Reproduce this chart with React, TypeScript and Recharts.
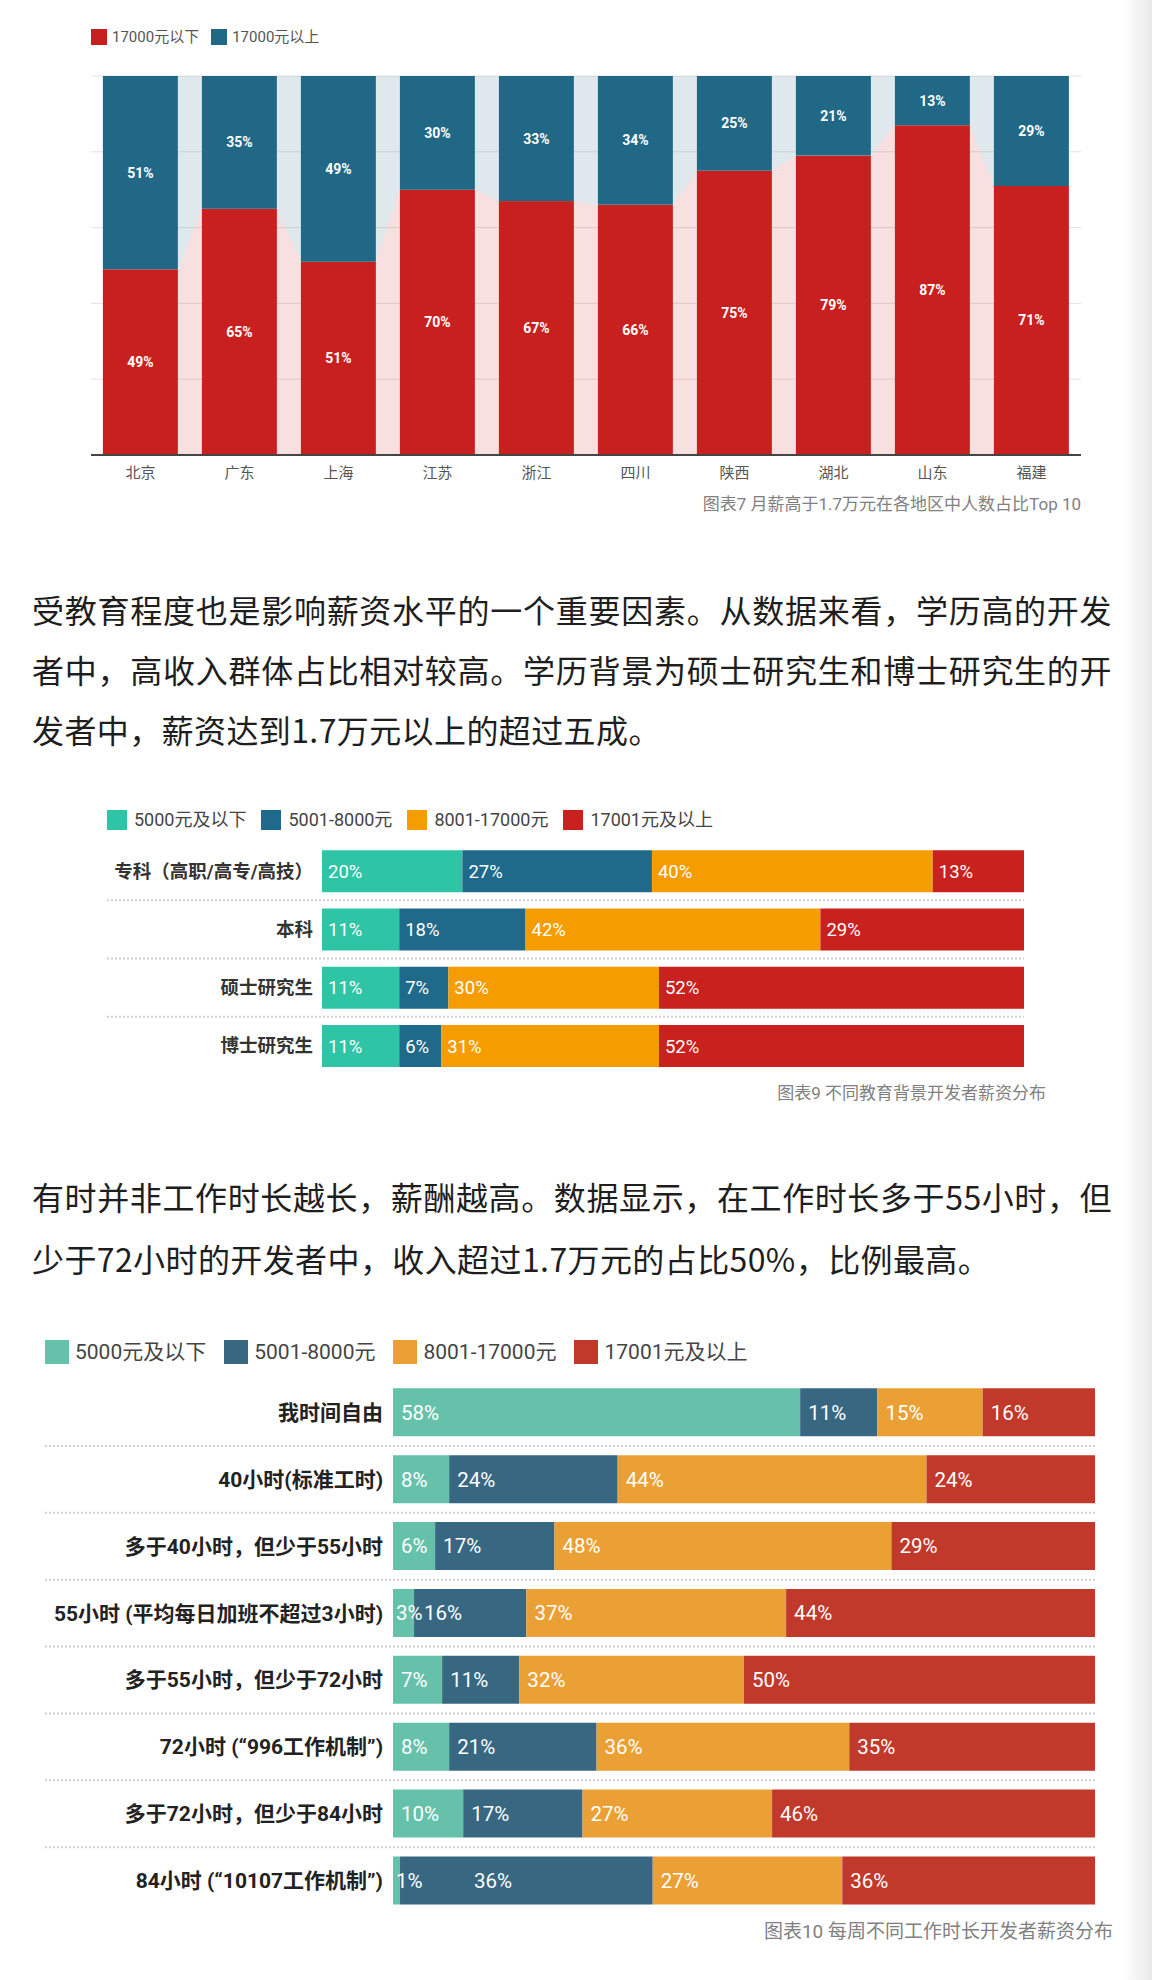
import React from "react";
import { BarChart, Bar, XAxis, YAxis, CartesianGrid, LabelList, ReferenceLine } from "recharts";

// 图表7 各地区
const regions = ["北京", "广东", "上海", "江苏", "浙江", "四川", "陕西", "湖北", "山东", "福建"];
const below17k = [49, 65, 51, 70, 67, 66, 75, 79, 87, 71];
const above17k = [51, 35, 49, 30, 33, 34, 25, 21, 13, 29];
const regionSeries = ["17000元以下", "17000元以上"];

// 图表9 教育背景
const eduLevels = ["专科（高职/高专/高技）", "本科", "硕士研究生", "博士研究生"];
const eduLow = [20, 11, 11, 11];
const eduMid = [27, 18, 7, 6];
const eduHigh = [40, 42, 30, 31];
const eduTop = [13, 29, 52, 52];

// 图表10 工作时长
const hourGroups = [
  "我时间自由",
  "40小时(标准工时)",
  "多于40小时，但少于55小时",
  "55小时 (平均每日加班不超过3小时)",
  "多于55小时，但少于72小时",
  "72小时 (\u201C996工作机制\u201D)",
  "多于72小时，但少于84小时",
  "84小时 (\u201C10107工作机制\u201D)",
];
const hoursLow = [58, 8, 6, 3, 7, 8, 10, 1];
const hoursMid = [11, 24, 17, 16, 11, 21, 17, 36];
const hoursHigh = [15, 44, 48, 37, 32, 36, 27, 27];
const hoursTop = [16, 24, 29, 44, 50, 35, 46, 36];

const salaryBands = ["5000元及以下", "5001-8000元", "8001-17000元", "17001元及以上"];

const para1 =
  "受教育程度也是影响薪资水平的一个重要因素。从数据来看，学历高的开发者中，高收入群体占比相对较高。学历背景为硕士研究生和博士研究生的开发者中，薪资达到1.7万元以上的超过五成。";
const para2 =
  "有时并非工作时长越长，薪酬越高。数据显示，在工作时长多于55小时，但少于72小时的开发者中，收入超过1.7万元的占比50%，比例最高。";

const FONT = 'Roboto, "Noto Sans CJK SC", sans-serif';
const CJK = '"Noto Sans CJK SC", sans-serif';

const regionColors = ["#c8201e", "#206886"];
const eduColors = ["#2ec4a6", "#1f6a8a", "#f59c00", "#c9211e"];
const hourColors = ["#66c1aa", "#386782", "#eba035", "#c0392b"];

const regionData = regions.map((name, i) => ({ name, low: below17k[i], high: above17k[i] }));
const eduData = eduLevels.map((name, i) => ({ name, a: eduLow[i], b: eduMid[i], c: eduHigh[i], d: eduTop[i] }));
const hourData = hourGroups.map((name, i) => ({ name, a: hoursLow[i], b: hoursMid[i], c: hoursHigh[i], d: hoursTop[i] }));

// chart 1 geometry
const C1_W = 1152;
const C1_M = { top: 76, right: 71, left: 91, bottom: 5 };
const C1_BAND = (C1_W - C1_M.left - C1_M.right) / regions.length;

// red bar plus the light connector shading into the next bar
function RedBar(props: any) {
  const { x, y, width, height, index, fill } = props;
  const k = height / below17k[index];
  const bottom = y + height;
  const top = bottom - 100 * k;
  let links = null;
  if (index < below17k.length - 1) {
    const x1 = x + width;
    const x2 = x + C1_BAND;
    const yn = bottom - below17k[index + 1] * k;
    links = (
      <g>
        <polygon points={`${x1},${y} ${x2},${yn} ${x2},${bottom} ${x1},${bottom}`} fill={regionColors[0]} fillOpacity={0.14} />
        <polygon points={`${x1},${top} ${x2},${top} ${x2},${yn} ${x1},${y}`} fill={regionColors[1]} fillOpacity={0.15} />
      </g>
    );
  }
  return (
    <g>
      {links}
      <rect x={x} y={y} width={width} height={height} fill={fill} />
    </g>
  );
}

function Legend({ items, colors, left, top, size, fontSize, textGap, itemGap, color }: any) {
  return (
    <div style={{ position: "absolute", left, top, display: "flex", alignItems: "center", gap: itemGap, fontFamily: FONT, fontSize, color, lineHeight: 1 }}>
      {items.map((t: string, i: number) => (
        <div key={t} style={{ display: "flex", alignItems: "center", gap: textGap }}>
          <span style={{ width: size, height: size, background: colors[i], display: "inline-block" }} />
          <span>{t}</span>
        </div>
      ))}
    </div>
  );
}

function Caption({ text, right, top, fontSize }: any) {
  return (
    <div style={{ position: "absolute", right: 1152 - right, top, fontFamily: FONT, fontSize, color: "#808080", lineHeight: 1, whiteSpace: "nowrap" }}>
      {text}
    </div>
  );
}

function makeSeparator(extend: number) {
  return (p: any) => (
    <line x1={p.x1 - extend} y1={p.y1} x2={p.x2} y2={p.y2} stroke="#cfcfcf" strokeWidth={2} strokeDasharray="2 2" />
  );
}

// value label at the left of a segment; tiny segments hug the edge and push the next label along
function makeValueLabel(prev: number[] | null, offset: number, fontSize: number) {
  return (p: any) => {
    const before = prev ? prev[p.index] : 100;
    let dx = p.value < 5 ? 3 : offset;
    if (before < 2) dx += 66;
    else if (before < 5) dx += 2;
    return (
      <text x={p.x + dx} y={p.y + p.height / 2} dy="0.36em" fill="#fff" fontSize={fontSize}>
        {`${p.value}%`}
      </text>
    );
  };
}

function StackedRows({ data, colors, width, height, margin, yWidth, tickSize, valueSize, labelColor, tickMargin, extend, offset }: any) {
  const keys = ["a", "b", "c", "d"];
  const cols = keys.map((k) => data.map((d: any) => d[k]));
  return (
    <BarChart layout="vertical" width={width} height={height} data={data} margin={margin} barCategoryGap="14%">
      <XAxis type="number" domain={[0, 100]} hide />
      <YAxis
        type="category"
        dataKey="name"
        width={yWidth}
        axisLine={false}
        tickLine={false}
        tickSize={0}
        tickMargin={tickMargin}
        interval={0}
        tick={{ fill: labelColor, fontSize: tickSize, fontWeight: 700 }}
      />
      {data.slice(1).map((d: any) => (
        <ReferenceLine key={d.name} y={d.name} position="start" shape={makeSeparator(extend)} />
      ))}
      {keys.map((k, i) => (
        <Bar key={k} dataKey={k} stackId="s" fill={colors[i]} isAnimationActive={false}>
          <LabelList dataKey={k} content={makeValueLabel(i > 0 ? cols[i - 1] : null, offset, valueSize)} />
        </Bar>
      ))}
    </BarChart>
  );
}

export default function App() {
  return (
    <div style={{ position: "absolute", left: 0, top: 0, width: 1152, height: 1980, background: "#fff", overflow: "hidden", fontFamily: FONT }}>
      {/* 图表7 */}
      <Legend items={regionSeries} colors={regionColors} left={91} top={29} size={16} fontSize={15} textGap={5} itemGap={12} color="#555" />
      <div style={{ position: "absolute", left: 0, top: 0 }}>
        <BarChart width={C1_W} height={490} data={regionData} margin={C1_M} barCategoryGap="12%">
          <CartesianGrid vertical={false} stroke="#e3e3e3" />
          <XAxis
            dataKey="name"
            axisLine={{ stroke: "#444", strokeWidth: 2 }}
            tickLine={false}
            tickSize={0}
            tickMargin={12}
            height={30}
            interval={0}
            tick={{ fill: "#555", fontSize: 15 }}
          />
          <YAxis hide domain={[0, 100]} ticks={[0, 20, 40, 60, 80, 100]} />
          <Bar dataKey="low" stackId="r" fill={regionColors[0]} shape={<RedBar />} isAnimationActive={false}>
            <LabelList dataKey="low" position="center" fill="#fff" fontSize={14} fontWeight={700} formatter={(v: any) => `${v}%`} />
          </Bar>
          <Bar dataKey="high" stackId="r" fill={regionColors[1]} isAnimationActive={false}>
            <LabelList dataKey="high" position="center" fill="#fff" fontSize={14} fontWeight={700} formatter={(v: any) => `${v}%`} />
          </Bar>
        </BarChart>
      </div>
      <Caption text="图表7 月薪高于1.7万元在各地区中人数占比Top 10" right={1081} top={496} fontSize={17} />

      <div style={{ position: "absolute", left: 32, top: 579, width: 1080, fontFamily: CJK, fontSize: 32, lineHeight: "60px", letterSpacing: 0.4, color: "#1e1e1e", textAlign: "justify" }}>
        {para1}
      </div>

      {/* 图表9 */}
      <Legend items={salaryBands} colors={eduColors} left={107} top={810} size={20} fontSize={18} textGap={7} itemGap={15} color="#444" />
      <div style={{ position: "absolute", left: 0, top: 830 }}>
        <StackedRows
          data={eduData}
          colors={eduColors}
          width={1152}
          height={260}
          margin={{ top: 12, right: 128, left: 0, bottom: 15 }}
          yWidth={322}
          tickSize={18.5}
          valueSize={18.5}
          labelColor="#333"
          tickMargin={9}
          extend={215}
          offset={6}
        />
      </div>
      <Caption text="图表9 不同教育背景开发者薪资分布" right={1046} top={1085} fontSize={17} />

      <div style={{ position: "absolute", left: 32, top: 1165, width: 1080, fontFamily: CJK, fontSize: 32, lineHeight: "62px", letterSpacing: 0.4, color: "#1e1e1e", textAlign: "justify" }}>
        {para2}
      </div>

      {/* 图表10 */}
      <Legend items={salaryBands} colors={hourColors} left={45} top={1340} size={24} fontSize={21} textGap={6} itemGap={18} color="#444" />
      <div style={{ position: "absolute", left: 0, top: 1366 }}>
        <StackedRows
          data={hourData}
          colors={hourColors}
          width={1152}
          height={563}
          margin={{ top: 13, right: 57, left: 0, bottom: 15 }}
          yWidth={393}
          tickSize={21}
          valueSize={20.5}
          labelColor="#222"
          tickMargin={10}
          extend={348}
          offset={8}
        />
      </div>
      <Caption text="图表10 每周不同工作时长开发者薪资分布" right={1113} top={1922} fontSize={19} />

      <div style={{ position: "absolute", left: 1124, top: 0, width: 28, height: 1980, background: "linear-gradient(to right, rgba(235,235,235,0), #e9e9e9)" }} />
    </div>
  );
}
